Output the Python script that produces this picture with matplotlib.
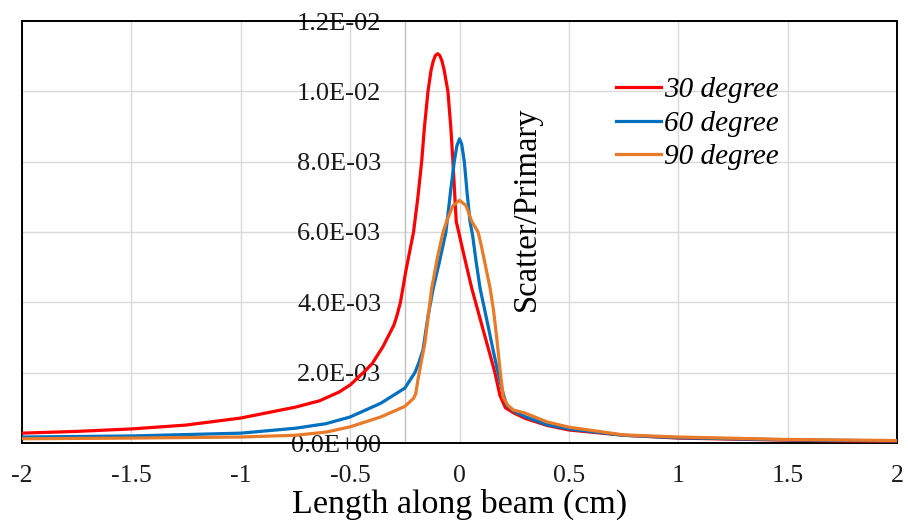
import matplotlib
matplotlib.use("Agg")
import matplotlib.pyplot as plt
from matplotlib.ticker import FuncFormatter, MultipleLocator
from matplotlib.lines import Line2D

plt.rcParams["font.family"] = ["Liberation Serif", "DejaVu Serif"]
plt.rcParams["axes.unicode_minus"] = False

# values (y in units of 1e-3)
x30 = [-2, -1.75, -1.5, -1.25, -1, -0.75, -0.64, -0.55, -0.5, -0.44, -0.4, -0.35,
       -0.3, -0.287, -0.27, -0.245, -0.226, -0.21, -0.19, -0.173, -0.16, -0.144,
       -0.13, -0.12, -0.11, -0.1, -0.09, -0.08, -0.07, -0.053, -0.04, -0.03,
       -0.015, 0.0, 0.02, 0.056, 0.1, 0.14, 0.162, 0.185, 0.21, 0.25, 0.3, 0.4,
       0.5, 0.75, 1, 1.25, 1.5, 1.75, 2]
y30 = [0.28, 0.33, 0.40, 0.51, 0.71, 1.02, 1.2, 1.45, 1.65, 2.0, 2.25, 2.74,
       3.35, 3.6, 4.0, 4.9, 5.5, 6.0, 7.0, 8.0, 9.0, 10.0,
       10.6, 10.86, 11.02, 11.07, 11.02, 10.86, 10.6, 10.0, 9.0, 8.0,
       6.3, 5.9, 5.35, 4.4, 3.4, 2.5, 2.0, 1.35, 1.0, 0.85, 0.7, 0.5,
       0.37, 0.22, 0.14, 0.11, 0.08, 0.06, 0.05]

x60 = [-2, -1.5, -1, -0.75, -0.61, -0.5, -0.36, -0.25, -0.204, -0.185, -0.167,
       -0.144, -0.12, -0.09, -0.062, -0.04, -0.024, -0.012, 0, 0.01, 0.022,
       0.035, 0.048, 0.06, 0.075, 0.094, 0.13, 0.155, 0.176, 0.2, 0.215, 0.25,
       0.3, 0.4, 0.5, 0.75, 1, 1.5, 2]
y60 = [0.17, 0.2, 0.28, 0.42, 0.55, 0.74, 1.13, 1.56, 2.0, 2.3, 2.65,
       3.6, 4.4, 5.2, 6.0, 7.2, 8.0, 8.45, 8.65, 8.5, 8.0,
       7.1, 6.3, 5.9, 5.2, 4.4, 3.35, 2.6, 2.0, 1.4, 1.08, 0.9,
       0.75, 0.52, 0.4, 0.22, 0.15, 0.09, 0.06]

x90 = [-2, -1.5, -1, -0.75, -0.61, -0.5, -0.36, -0.25, -0.21, -0.2, -0.19,
       -0.175, -0.158, -0.127, -0.1, -0.075, -0.059, -0.03, 0, 0.03, 0.056,
       0.085, 0.1, 0.12, 0.14, 0.155, 0.17, 0.185, 0.2, 0.22, 0.245, 0.3, 0.4,
       0.5, 0.75, 1, 1.5, 2]
y90 = [0.12, 0.14, 0.17, 0.22, 0.31, 0.46, 0.74, 1.04, 1.27, 1.4, 1.8,
       2.3, 2.85, 4.4, 5.3, 6.0, 6.3, 6.75, 6.9, 6.75, 6.3,
       6.0, 5.6, 5.0, 4.4, 3.8, 3.0, 2.1, 1.3, 1.08, 0.94, 0.85, 0.6,
       0.45, 0.23, 0.17, 0.1, 0.07]

labels = ["30 degree", "60 degree", "90 degree"]
colors = ["#FF0000", "#0070C0", "#E97A28"]

fig = plt.figure(figsize=(9.08, 5.27), dpi=100)
ax = fig.add_axes([22 / 908, 84 / 527, 875 / 908, 422 / 527])

for xs, ys, lab, c in zip([x30, x60, x90], [y30, y60, y90], labels, colors):
    ax.plot(xs, [v * 1e-3 for v in ys], color=c, lw=2.3, label=lab,
            zorder=3, solid_joinstyle="round")

ax.set_xlim(-2, 2)
ax.set_ylim(0, 0.012)
ax.xaxis.set_major_locator(MultipleLocator(0.5))
ax.yaxis.set_major_locator(MultipleLocator(0.002))
ax.xaxis.set_major_formatter(FuncFormatter(lambda v, p: f"{v:g}"))
ax.yaxis.set_major_formatter(FuncFormatter(lambda v, p: f"{v:.1E}"))
ax.grid(True, color="#D9D9D9", lw=1.0, zorder=0)
ax.set_axisbelow(True)

# vertical axis crosses at -0.25, frame drawn around the plot area
ax.spines["left"].set_position(("data", -0.25))
ax.spines["left"].set_color("#BFBFBF")
ax.spines["left"].set_linewidth(1.0)
for s in ["top", "right", "bottom"]:
    ax.spines[s].set_color("black")
    ax.spines[s].set_linewidth(1.4)
ax.add_line(Line2D([0, 0], [0, 1], transform=ax.transAxes, color="black",
                   lw=1.4, clip_on=False))

ax.tick_params(axis="both", length=0, colors="#1a1a1a")
ax.tick_params(axis="y", pad=17, labelsize=19)
ax.tick_params(axis="x", pad=16, labelsize=18.5)

ax.set_xlabel("Length along beam (cm)", fontsize=24.5, labelpad=1)
fig.text(527 / 908, 1 - 209 / 527, "Scatter/Primary", rotation=90,
         ha="center", va="center", fontsize=23.5)

ax.legend(loc="upper left", bbox_to_anchor=(616 / 908, 1 - 77 / 527),
          bbox_transform=fig.transFigure, frameon=False,
          prop={"style": "italic", "size": 21}, handlelength=1.55,
          handletextpad=0.1, labelspacing=0.24, borderpad=0, borderaxespad=0)

fig.savefig("out.png", dpi=100)
